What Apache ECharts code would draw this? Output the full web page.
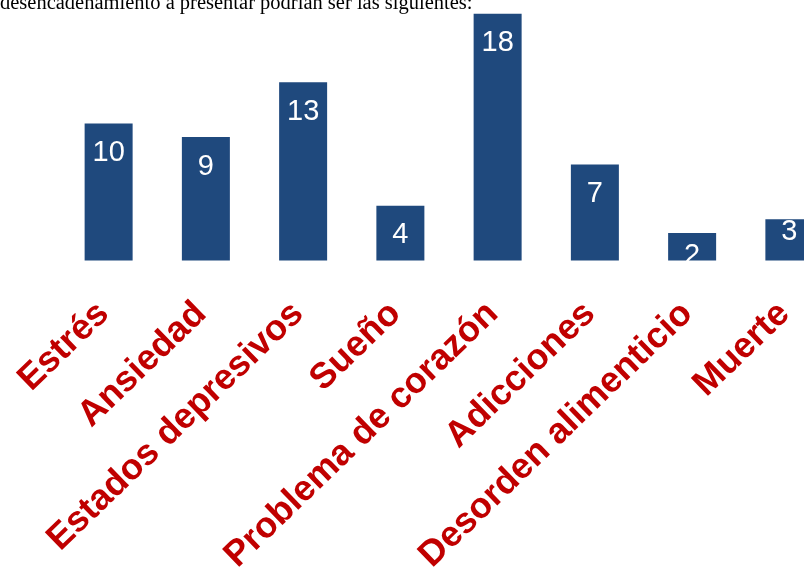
<!DOCTYPE html>
<html>
<head>
<meta charset="utf-8">
<script src="https://cdn.jsdelivr.net/npm/echarts@6/dist/echarts.min.js"></script>
<style>
  html, body { margin: 0; padding: 0; background: #fff; }
  #chart { width: 804px; height: 581px; }
</style>
</head>
<body>
<div id="chart"></div>
<script>
const categories = ['Estrés', 'Ansiedad', 'Estados depresivos', 'Sueño', 'Problema de corazón', 'Adicciones', 'Desorden alimenticio', 'Muerte'];
const values = [10, 9, 13, 4, 18, 7, 2, 3];
const introText = 'desencadenamiento a presentar podrían ser las siguientes:';

const chart = echarts.init(document.getElementById('chart'));

// etiquetas de las barras pequeñas un poco más arriba, como en la imagen
const labelDistance = { 6: 8, 7: -2 };
const seriesData = values.map((v, i) =>
  labelDistance[i] !== undefined ? { value: v, label: { distance: labelDistance[i] } } : v
);

const option = {
  animation: false,
  grid: { left: 60, right: -34, top: 0, bottom: 320.5, outerBoundsMode: 'none', containLabel: false },
  xAxis: {
    type: 'category',
    data: categories,
    axisLine: { show: false },
    axisTick: { show: false },
    axisLabel: {
      rotate: 44,
      interval: 0,
      margin: 43,
      padding: [0, 7, 0, 0],
      color: '#C00000',
      fontWeight: 'bold',
      fontSize: 36,
      fontFamily: 'Liberation Sans, Arial, sans-serif'
    }
  },
  yAxis: {
    type: 'value',
    min: 0,
    max: 19,
    show: false,
    splitLine: { show: false }
  },
  series: [{
    type: 'bar',
    data: seriesData,
    barWidth: 48,
    itemStyle: { color: '#1F497D' },
    label: {
      show: true,
      position: 'insideTop',
      distance: 15,
      color: '#fff',
      fontSize: 29,
      fontFamily: 'Liberation Sans, Arial, sans-serif'
    }
  }],
  graphic: [{
    type: 'text',
    left: 0,
    top: -7,
    style: {
      text: introText,
      fill: '#000',
      font: '20.5px "Liberation Serif", "Times New Roman", serif'
    }
  }]
};

chart.setOption(option);
</script>
</body>
</html>
